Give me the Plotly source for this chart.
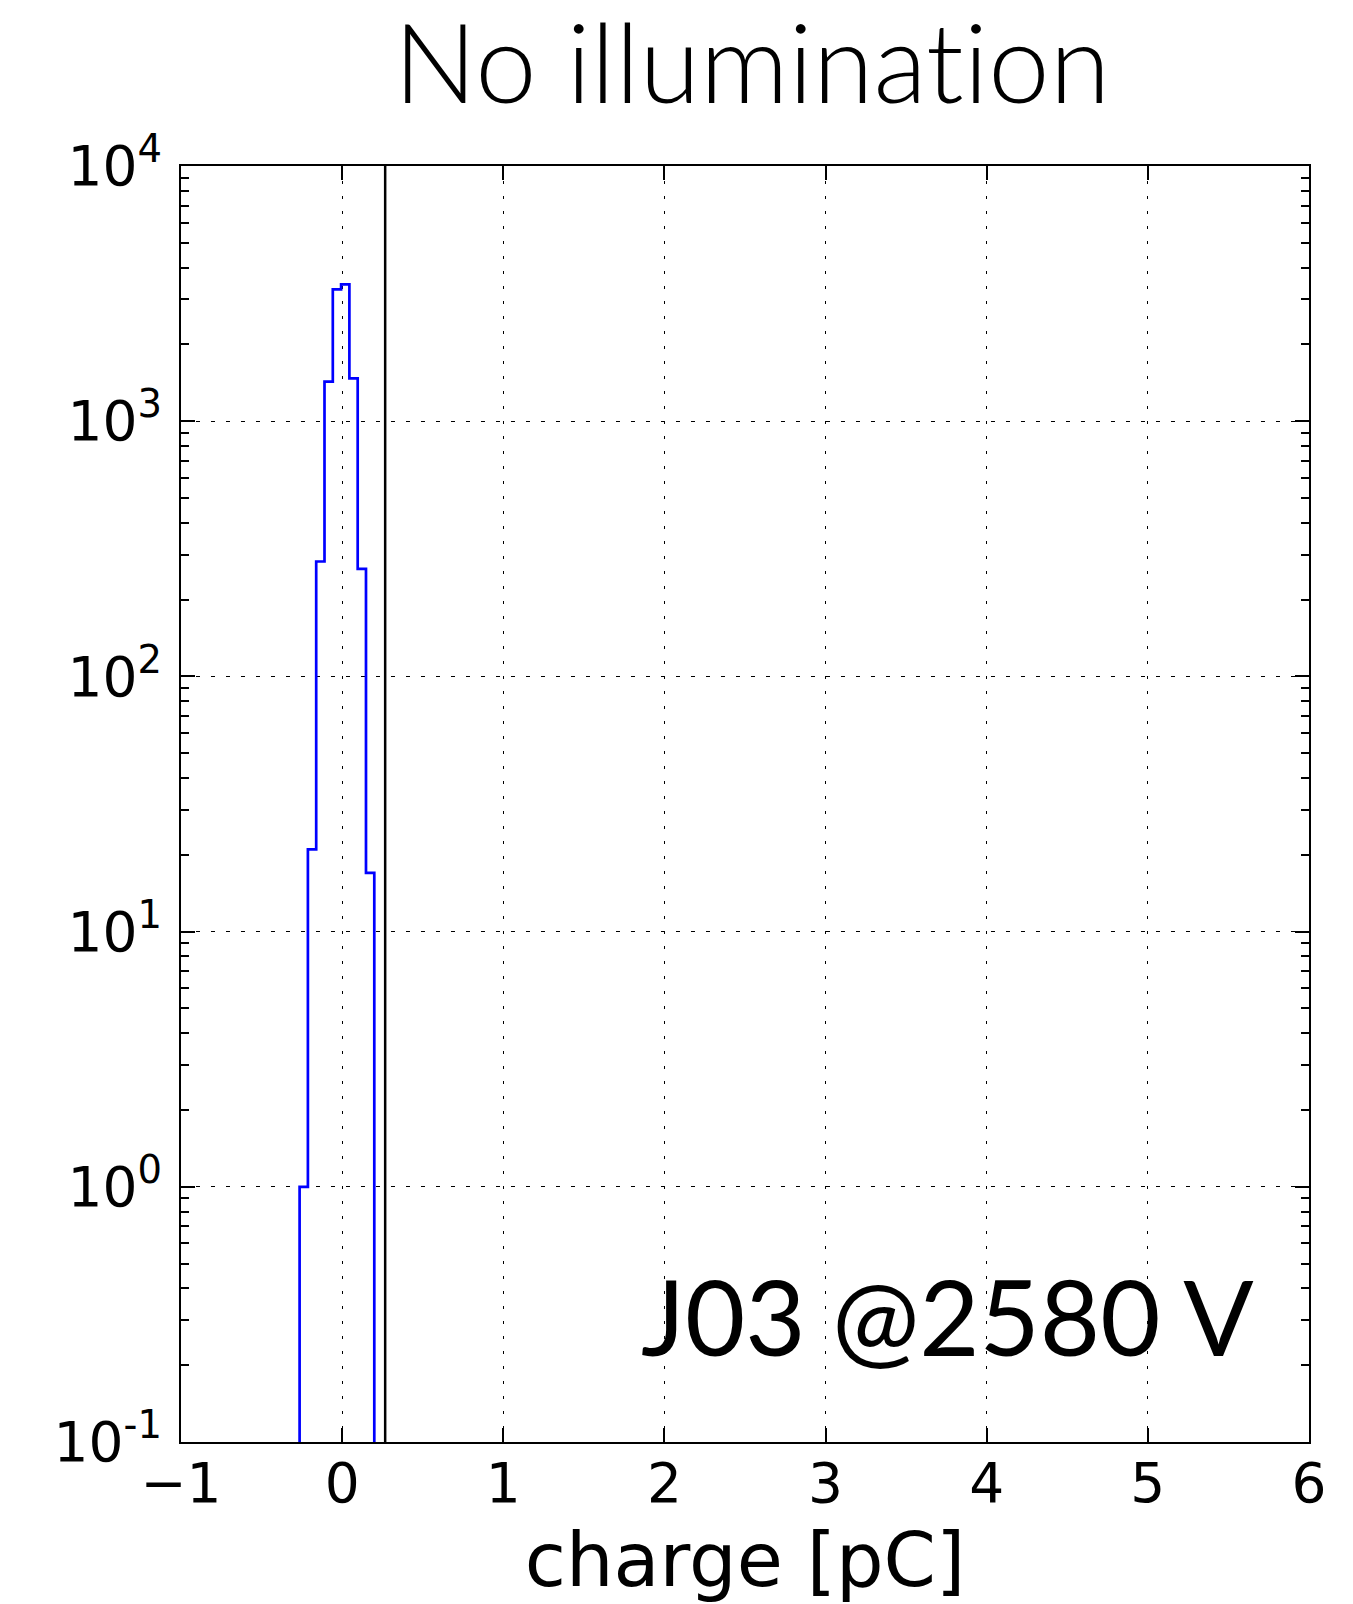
import plotly.graph_objects as go

# ---- data ----
bin_edges = [-0.264, -0.2125, -0.161, -0.1095, -0.058, -0.0065, 0.045, 0.0965, 0.148, 0.1995]
counts = [1, 21, 282, 1429, 3284, 3436, 1471, 264, 17]
threshold_pc = 0.267
x_tick_vals = [-1, 0, 1, 2, 3, 4, 5, 6]
x_tick_labels = ["\u22121", "0", "1", "2", "3", "4", "5", "6"]
y_tick_vals = [0.1, 1, 10, 100, 1000, 10000]
y_tick_labels = ["10<sup>-1</sup>", "10<sup>0</sup>", "10<sup>1</sup>",
                 "10<sup>2</sup>", "10<sup>3</sup>", "10<sup>4</sup>"]
title_text = "No illuminat\u200cion"
label_text = "J03 @2580 V"

# step outline (matplotlib histtype='step'), ends drop below the axis floor
floor = 1e-3
xs = [bin_edges[0]]
ys = [floor]
for i, c in enumerate(counts):
    xs += [bin_edges[i], bin_edges[i + 1]]
    ys += [c, c]
xs.append(bin_edges[-1])
ys.append(floor)

minor_vals = [m * 10 ** k for k in range(-1, 4) for m in range(2, 10)]

fig = go.Figure()
fig.add_trace(go.Scatter(x=xs, y=ys, mode="lines",
                         line=dict(color="#0000ff", width=2.7),
                         showlegend=False, hoverinfo="skip"))
fig.add_vline(x=threshold_pc, line=dict(color="black", width=2.5), layer="above")

tick_font = dict(family="DejaVu Sans", size=55, color="black")

fig.update_layout(
    width=1353, height=1604,
    margin=dict(l=181, r=44, t=166, b=156),
    paper_bgcolor="white", plot_bgcolor="white",
    title=dict(text=title_text, x=752 / 1353, xanchor="center", xref="container",
               y=1 - 64 / 1604, yanchor="middle", yref="container",
               font=dict(family="Lato", size=110, weight=300, color="black")),
    annotations=[dict(text=label_text, xref="paper", yref="paper",
                      x=(1256 - 181) / 1128, y=(1448 - 1321) / 1282,
                      xanchor="right", yanchor="middle", showarrow=False,
                      font=dict(family="Lato", size=104, weight=400, color="black"))],
)

fig.update_xaxes(
    range=[-1, 6], tickmode="array", tickvals=x_tick_vals, ticktext=x_tick_labels,
    ticks="inside", ticklen=14, tickwidth=1.5, tickcolor="black",
    showline=True, linecolor="black", linewidth=2, mirror="allticks",
    showgrid=True, gridcolor="black", gridwidth=1, griddash="3px,12px",
    zeroline=False, tickfont=tick_font, ticklabelstandoff=-8,
    title=dict(text="charge [pC]", font=dict(family="DejaVu Sans", size=75, color="black"),
               standoff=24),
)
fig.update_yaxes(
    type="log", range=[-1, 4], tickmode="array", tickvals=y_tick_vals, ticktext=y_tick_labels,
    ticks="inside", ticklen=14, tickwidth=1.5, tickcolor="black",
    showline=True, linecolor="black", linewidth=2, mirror="allticks",
    showgrid=True, gridcolor="black", gridwidth=1, griddash="4px,11px",
    zeroline=False, tickfont=tick_font, ticklabelstandoff=6,
    minor=dict(tickmode="array", tickvals=minor_vals, ticks="inside", ticklen=8,
               tickwidth=1.5, tickcolor="black", showgrid=False),
)

fig.write_html("out.html")
